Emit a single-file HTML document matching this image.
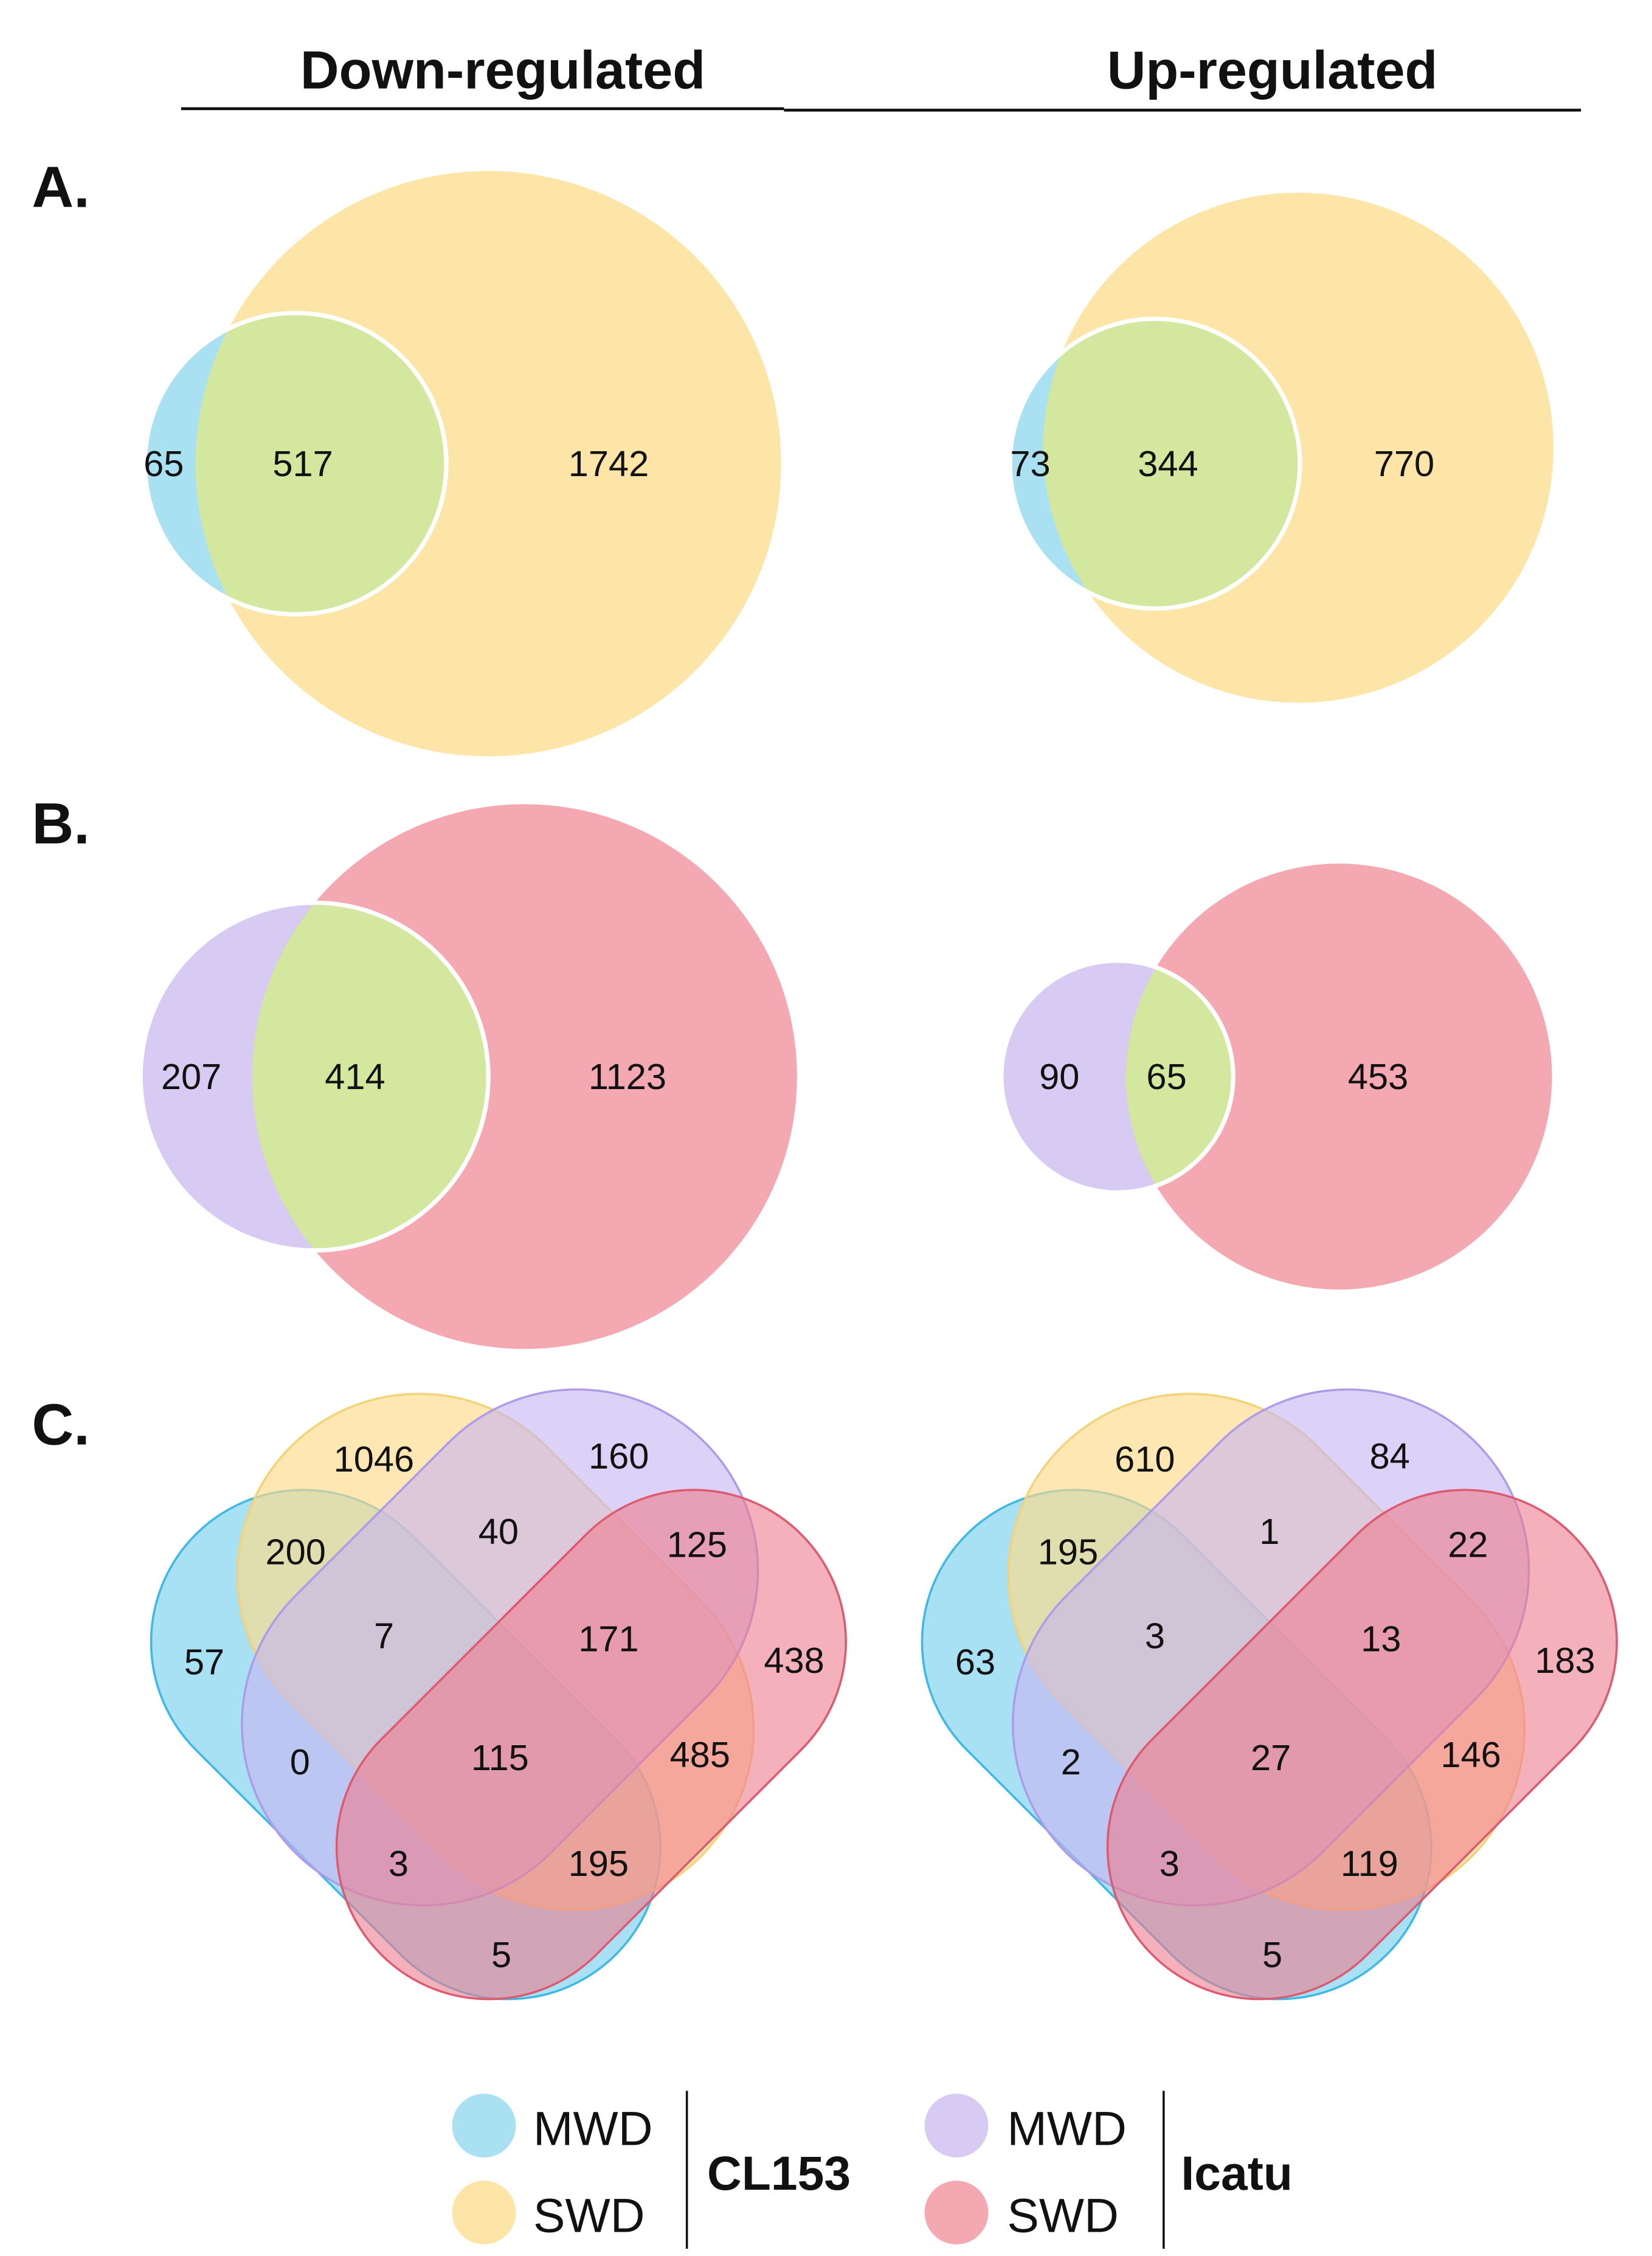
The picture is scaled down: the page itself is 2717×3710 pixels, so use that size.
<!DOCTYPE html>
<html><head><meta charset="utf-8"><style>
html,body{margin:0;padding:0;background:#fff}
svg{display:block}
text{font-family:"Liberation Sans",Arial,sans-serif;fill:#111}
.n{font-size:25px;text-anchor:middle;dominant-baseline:central}
.h{font-size:37px;font-weight:bold;text-anchor:middle}
.l{font-size:40px;font-weight:bold}
.g{font-size:33px;dominant-baseline:central}
.gb{font-size:33px;font-weight:bold;dominant-baseline:central}
</style></head><body>
<svg width="2717" height="3710" viewBox="0 0 1140 1557" preserveAspectRatio="none" xmlns="http://www.w3.org/2000/svg">
<defs>
<clipPath id="ca1"><circle cx="204" cy="320" r="104"/></clipPath>
<clipPath id="ca2"><circle cx="797" cy="320" r="100"/></clipPath>
<clipPath id="cb1"><circle cx="217" cy="743" r="120"/></clipPath>
<clipPath id="cb2"><circle cx="771" cy="743" r="80"/></clipPath>
<g id="venn4">
<rect x="-205" y="-105" width="410" height="210" rx="105" transform="translate(280,1204) rotate(45)" fill="#7fd3ee" fill-opacity="0.68" stroke="#3fb8e4" stroke-width="1.5"/>
<rect x="-200" y="-125" width="400" height="250" rx="125" transform="translate(342,1140) rotate(45)" fill="#fdda88" fill-opacity="0.65" stroke="#f3d37a" stroke-width="1.5"/>
<rect x="-200" y="-125" width="400" height="250" rx="125" transform="translate(345,1137) rotate(-45)" fill="#c6b5f1" fill-opacity="0.62" stroke="#ae9ce8" stroke-width="1.5"/>
<rect x="-205" y="-105" width="410" height="210" rx="105" transform="translate(408,1204) rotate(-45)" fill="#ef7d8e" fill-opacity="0.6" stroke="#dd5a70" stroke-width="1.5"/>
</g>
</defs>

<text class="h" x="347" y="61">Down-regulated</text>
<text class="h" x="878" y="61">Up-regulated</text>
<line x1="125" y1="75" x2="541" y2="75" stroke="#111" stroke-width="2"/>
<line x1="541" y1="76" x2="1091" y2="76" stroke="#111" stroke-width="2"/>

<text class="l" x="22" y="143">A.</text>
<text class="l" x="22" y="582">B.</text>
<text class="l" x="22" y="997">C.</text>

<circle cx="204" cy="320" r="104" fill="#a9e0f2"/>
<circle cx="337" cy="320" r="202" fill="#fde5a7"/>
<circle cx="337" cy="320" r="202" fill="#d4e79f" clip-path="url(#ca1)"/>
<circle cx="204" cy="320" r="104" fill="none" stroke="#fff" stroke-width="3"/>
<text class="n" x="113" y="320">65</text><text class="n" x="209" y="320">517</text><text class="n" x="420" y="320">1742</text>

<circle cx="797" cy="320" r="100" fill="#a9e0f2"/>
<circle cx="896" cy="309" r="176" fill="#fde5a7"/>
<circle cx="896" cy="309" r="176" fill="#d4e79f" clip-path="url(#ca2)"/>
<circle cx="797" cy="320" r="100" fill="none" stroke="#fff" stroke-width="3"/>
<text class="n" x="711" y="320">73</text><text class="n" x="806" y="320">344</text><text class="n" x="969" y="320">770</text>

<circle cx="217" cy="743" r="120" fill="#d8cbf3"/>
<circle cx="362" cy="743" r="188" fill="#f4a8b1"/>
<circle cx="362" cy="743" r="188" fill="#d4e79f" clip-path="url(#cb1)"/>
<circle cx="217" cy="743" r="120" fill="none" stroke="#fff" stroke-width="3"/>
<text class="n" x="132" y="743">207</text><text class="n" x="245" y="743">414</text><text class="n" x="433" y="743">1123</text>

<circle cx="771" cy="743" r="80" fill="#d8cbf3"/>
<circle cx="924" cy="743" r="147" fill="#f4a8b1"/>
<circle cx="924" cy="743" r="147" fill="#d4e79f" clip-path="url(#cb2)"/>
<circle cx="771" cy="743" r="80" fill="none" stroke="#fff" stroke-width="3"/>
<text class="n" x="731" y="743">90</text><text class="n" x="805" y="743">65</text><text class="n" x="951" y="743">453</text>

<use href="#venn4"/>
<use href="#venn4" transform="translate(532,0)"/>
<g>
<text class="n" x="258" y="1007">1046</text><text class="n" x="427" y="1005">160</text>
<text class="n" x="204" y="1071">200</text><text class="n" x="344" y="1057">40</text><text class="n" x="481" y="1066">125</text>
<text class="n" x="141" y="1147">57</text><text class="n" x="265" y="1129">7</text><text class="n" x="420" y="1131">171</text><text class="n" x="548" y="1146">438</text>
<text class="n" x="207" y="1216">0</text><text class="n" x="345" y="1213">115</text><text class="n" x="483" y="1211">485</text>
<text class="n" x="275" y="1286">3</text><text class="n" x="413" y="1286">195</text><text class="n" x="346" y="1349">5</text>
</g>
<g>
<text class="n" x="790" y="1007">610</text><text class="n" x="959" y="1005">84</text>
<text class="n" x="737" y="1071">195</text><text class="n" x="876" y="1057">1</text><text class="n" x="1013" y="1066">22</text>
<text class="n" x="673" y="1147">63</text><text class="n" x="797" y="1129">3</text><text class="n" x="953" y="1131">13</text><text class="n" x="1080" y="1146">183</text>
<text class="n" x="739" y="1216">2</text><text class="n" x="877" y="1213">27</text><text class="n" x="1015" y="1211">146</text>
<text class="n" x="807" y="1286">3</text><text class="n" x="945" y="1286">119</text><text class="n" x="878" y="1349">5</text>
</g>

<circle cx="334" cy="1467" r="22" fill="#a9e0f2"/>
<circle cx="334" cy="1527" r="22" fill="#fde5a7"/>
<circle cx="660" cy="1467" r="22" fill="#d8cbf3"/>
<circle cx="660" cy="1527" r="22" fill="#f4a8b1"/>
<text class="g" x="368" y="1469">MWD</text>
<text class="g" x="368" y="1529">SWD</text>
<text class="g" x="695" y="1469">MWD</text>
<text class="g" x="695" y="1529">SWD</text>
<line x1="474" y1="1443" x2="474" y2="1552" stroke="#111" stroke-width="1.5"/>
<line x1="803" y1="1443" x2="803" y2="1552" stroke="#111" stroke-width="1.5"/>
<text class="gb" x="488" y="1500">CL153</text>
<text class="gb" x="815" y="1500">Icatu</text>
</svg>
</body></html>
